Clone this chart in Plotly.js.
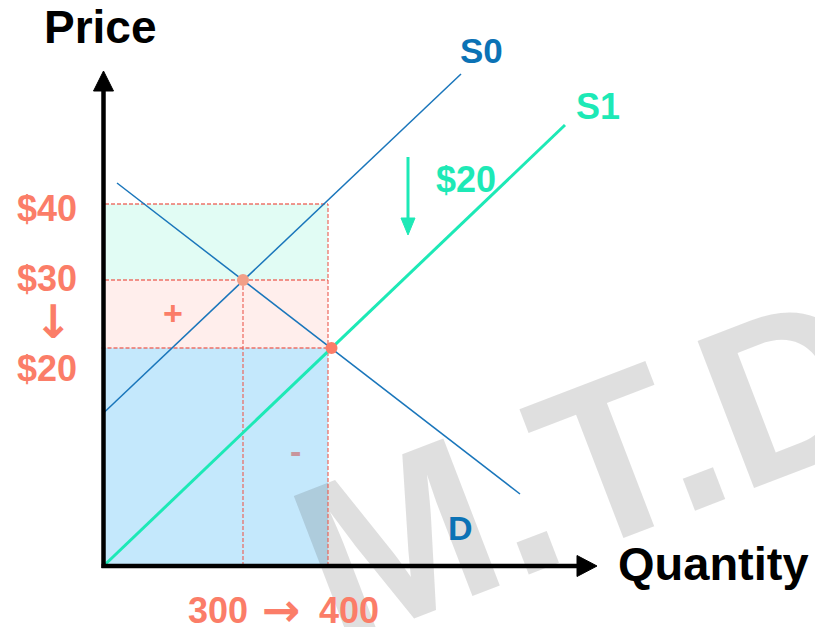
<!DOCTYPE html>
<html>
<head>
<meta charset="utf-8">
<script src="https://cdn.plot.ly/plotly-3.0.1.min.js"></script>
<style>html,body{margin:0;padding:0;background:#fff;}#chart{width:815px;height:627px;}</style>
</head>
<body>
<div id="chart"></div>
<script>
// Schematic diagram units (origin = axes origin)
const qtyLabels = ["300", "400"];
const qtyPos = [139.5, 224.5];
const priceLabels = ["$40", "$30", "$20"];
const pricePos = [362, 286, 218];

const s0X = [0, 357.5];
const s0Y = [153, 492];
const s1X = [0, 461.5];
const s1Y = [0, 441];
const dX = [13.5, 416.5];
const dY = [383, 72];

const eqX = [139.5, 228];
const eqY = [286, 218];

const xAxisEnd = 493.5;
const yAxisEnd = 495;
const shiftX = 304.5;
const shiftTop = 409;
const shiftTip = 331;
const shiftLabel = "$20";
const watermark = "M.T.D";

const FONT = "Liberation Sans, Arial, sans-serif";
const ARROWFONT = "DejaVu Sans, sans-serif";
const BLUE = "#0b72b5";
const GREEN = "#1de9b6";
const SALMON = "#fb7d68";
const DASH = "rgba(236,92,80,0.85)";

const traces = [];
// curves
traces.push({x: s0X, y: s0Y, mode: "lines", line: {color: "#1a76bb", width: 1.5}});
traces.push({x: dX, y: dY, mode: "lines", line: {color: "#1a76bb", width: 1.5}});
traces.push({x: s1X, y: s1Y, mode: "lines", line: {color: GREEN, width: 3}});
// axes
traces.push({x: [-2, xAxisEnd - 16], y: [0, 0], mode: "lines", line: {color: "#000", width: 4.5}});
traces.push({x: [0, 0], y: [-2, yAxisEnd - 17], mode: "lines", line: {color: "#000", width: 4.5}});
traces.push({x: [xAxisEnd - 20, xAxisEnd, xAxisEnd - 20, xAxisEnd - 20], y: [10.5, 0, -10.5, 10.5], mode: "lines", fill: "toself", fillcolor: "#000", line: {color: "#000", width: 1}});
traces.push({x: [-10, 0, 10, -10], y: [yAxisEnd - 20, yAxisEnd, yAxisEnd - 20, yAxisEnd - 20], mode: "lines", fill: "toself", fillcolor: "#000", line: {color: "#000", width: 1}});
// supply shift arrow
traces.push({x: [shiftX, shiftX], y: [shiftTop, shiftTip + 12], mode: "lines", line: {color: GREEN, width: 3}});
traces.push({x: [shiftX - 7, shiftX, shiftX + 7, shiftX - 7], y: [shiftTip + 17, shiftTip, shiftTip + 17, shiftTip + 17], mode: "lines", fill: "toself", fillcolor: GREEN, line: {color: GREEN, width: 1}});
// equilibrium points
traces.push({x: eqX, y: eqY, mode: "markers", marker: {size: 12, color: ["#f29f88", "#fb7d68"]}});

const shapes = [
  {type: "rect", layer: "below", xref: "x", yref: "y", x0: 0, x1: qtyPos[1], y0: pricePos[1], y1: pricePos[0], fillcolor: "#e1fcf4", line: {width: 0}},
  {type: "rect", layer: "below", xref: "x", yref: "y", x0: 0, x1: qtyPos[1], y0: pricePos[2], y1: pricePos[1], fillcolor: "#ffeeec", line: {width: 0}},
  {type: "rect", layer: "below", xref: "x", yref: "y", x0: 0, x1: qtyPos[1], y0: 0, y1: pricePos[2], fillcolor: "#c4e8fc", line: {width: 0}},
  {type: "rect", layer: "below", xref: "x", yref: "y", x0: 275.5, x1: 675.5, y0: 69, y1: 169, line: {width: 0}, fillcolor: "rgba(0,0,0,0)",
   label: {text: "<b>" + watermark + "</b>", textangle: -21, textposition: "middle center", font: {family: FONT, size: 229, color: "rgba(64,64,64,0.17)"}}},
  // dashed guides
  {type: "line", layer: "below", xref: "x", yref: "y", x0: 1.5, x1: qtyPos[1], y0: pricePos[0], y1: pricePos[0], line: {color: DASH, width: 1.3, dash: "4px,2px"}},
  {type: "line", layer: "below", xref: "x", yref: "y", x0: 1.5, x1: qtyPos[1], y0: pricePos[1], y1: pricePos[1], line: {color: DASH, width: 1.3, dash: "4px,2px"}},
  {type: "line", layer: "below", xref: "x", yref: "y", x0: -2, x1: qtyPos[1], y0: pricePos[2], y1: pricePos[2], line: {color: DASH, width: 1.3, dash: "4px,2px"}},
  {type: "line", layer: "below", xref: "x", yref: "y", x0: qtyPos[0], x1: qtyPos[0], y0: 0, y1: pricePos[1], line: {color: DASH, width: 1.3, dash: "4px,2px"}},
  {type: "line", layer: "below", xref: "x", yref: "y", x0: qtyPos[1], x1: qtyPos[1], y0: 0, y1: pricePos[0], line: {color: DASH, width: 1.3, dash: "4px,2px"}}
];

function txt(x, y, text, size, color, extra) {
  return Object.assign({x: x, y: y, xref: "x", yref: "y", text: "<b>" + text + "</b>", showarrow: false,
    xanchor: "center", yanchor: "middle", font: {family: FONT, size: size, color: color}}, extra || {});
}

const annotations = [
  txt(-3.5, 539, "Price", 46, "#000"),
  txt(609.5, 3, "Quantity", 47, "#000"),
  txt(377.5, 516, "S0", 35, BLUE),
  txt(494.5, 460, "S1", 36, GREEN),
  txt(362.5, 387, shiftLabel, 36, GREEN),
  txt(356.5, 38, "D", 34, BLUE),
  txt(-56.5, pricePos[0], priceLabels[0], 36, SALMON, {yshift: -4}),
  txt(-56.5, pricePos[1], priceLabels[1], 36, SALMON, {yshift: 2}),
  txt(-50.5, 244, "↓", 46, SALMON, {font: {family: ARROWFONT, size: 46, color: SALMON}}),
  txt(-56.5, pricePos[2], priceLabels[2], 36, SALMON, {yshift: -20}),
  txt(qtyPos[0] - 40, -44, qtyLabels[0], 36, SALMON, {xshift: 15}),
  txt((qtyPos[0] + qtyPos[1]) / 2 - 4, -44, "→", 46, SALMON, {font: {family: ARROWFONT, size: 46, color: SALMON}}),
  txt(qtyPos[1] + 21, -44, qtyLabels[1], 36, SALMON),
  txt(69.5, 253, "+", 34, SALMON),
  txt(191.5, 115, "-", 34, "#c8959c")
];

const layout = {
  width: 815, height: 627,
  margin: {l: 0, r: 0, t: 0, b: 0},
  paper_bgcolor: "#fff", plot_bgcolor: "#fff",
  showlegend: false, hovermode: false,
  xaxis: {range: [-103.5, 711.5], visible: false, fixedrange: true},
  yaxis: {range: [-61, 566], visible: false, fixedrange: true},
  shapes: shapes,
  annotations: annotations
};

Plotly.newPlot("chart", traces, layout, {staticPlot: true, displayModeBar: false});
</script>
</body>
</html>
